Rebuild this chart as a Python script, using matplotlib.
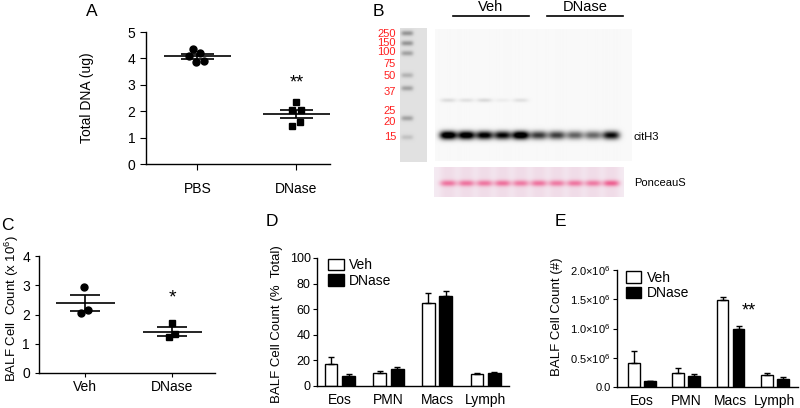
import numpy as np
import matplotlib.pyplot as plt
from matplotlib.ticker import FuncFormatter

plt.rcParams['font.family'] = ['Liberation Sans', 'DejaVu Sans']
plt.rcParams['mathtext.fontset'] = 'custom'
plt.rcParams['mathtext.rm'] = 'Liberation Sans'
plt.rcParams['mathtext.it'] = 'Liberation Sans:italic'
plt.rcParams['axes.linewidth'] = 1.0

# ---- data ----
# panel A: total DNA (ug)
a_groups = ['PBS', 'DNase']
a_pbs = [4.35, 4.20, 4.10, 3.85, 3.91]
a_dnase = [2.35, 2.06, 2.04, 1.58, 1.44]
a_jitter_pbs = [-0.047, 0.03, -0.088, -0.01, 0.07]
a_jitter_dnase = [-0.003, -0.044, 0.047, 0.04, -0.044]

# panel B: western blot band strengths (0-1)
blot_groups = ['Veh', 'DNase']
cith3_band = [1.0, 0.95, 0.85, 0.80, 1.0, 0.62, 0.60, 0.48, 0.46, 0.78]
upper_band = [0.12, 0.10, 0.13, 0.05, 0.10, 0.0, 0.0, 0.0, 0.0, 0.0]
ponceau_band = [0.80, 0.80, 0.78, 0.82, 0.75, 0.80, 0.75, 0.78, 0.75, 0.95]
marker_labels = ['250', '150', '100', '75', '50', '37', '25', '20', '15']

# panel C: BALF cell count (x10^6)
c_groups = ['Veh', 'DNase']
c_veh = [2.95, 2.16, 2.05]
c_dnase = [1.70, 1.33, 1.22]
c_jitter_veh = [-0.008, 0.027, -0.046]
c_jitter_dnase = [-0.004, 0.034, -0.042]

# panels D and E: cell types
cells = ['Eos', 'PMN', 'Macs', 'Lymph']
d_veh = [17, 10.4, 64.8, 9.4]
d_veh_err = [6, 1.6, 7.8, 0.5]
d_dnase = [8, 13, 70.5, 9.9]
d_dnase_err = [1, 2, 3.4, 1.3]

e_veh = [0.417e6, 0.24e6, 1.486e6, 0.211e6]
e_veh_err = [0.20e6, 0.086e6, 0.044e6, 0.035e6]
e_dnase = [0.097e6, 0.183e6, 0.983e6, 0.131e6]
e_dnase_err = [0.013e6, 0.046e6, 0.057e6, 0.04e6]

W, H = 800, 408
fig = plt.figure(figsize=(W / 100, H / 100), dpi=100)


def box(x0, y0, x1, y1):
    return fig.add_axes([x0 / W, 1 - y1 / H, (x1 - x0) / W, (y1 - y0) / H])


def style(ax):
    for s in ['top', 'right']:
        ax.spines[s].set_visible(False)


def mean_sem(ax, x, vals, marker, jitter):
    vals = np.array(vals)
    m = vals.mean()
    sem = vals.std(ddof=1) / np.sqrt(len(vals))
    ax.plot(x + np.array(jitter), vals, marker, color='black', ms=5, ls='none', zorder=3)
    ax.hlines(m, x - 0.34, x + 0.34, color='black', lw=1.2)
    ax.hlines([m - sem, m + sem], x - 0.17, x + 0.17, color='black', lw=1.2)
    ax.vlines(x, m - sem, m + sem, color='black', lw=1.2)


def panel_label(txt, x, y):
    fig.text(x / W, 1 - y / H, txt, fontsize=12.5, ha='center', va='center')


# ---- panel A ----
ax = box(146, 32, 330, 164)
style(ax)
mean_sem(ax, 0, a_pbs, 'o', a_jitter_pbs)
mean_sem(ax, 1, a_dnase, 's', a_jitter_dnase)
ax.set_xlim(-0.52, 1.34)
ax.set_ylim(0, 5)
ax.set_yticks(range(6))
ax.set_xticks([0, 1])
ax.set_xticklabels(a_groups)
ax.tick_params(axis='x', length=4, pad=9, labelsize=10)
ax.tick_params(axis='y', length=4, labelsize=10)
ax.set_ylabel('Total DNA (ug)', fontsize=10)
ax.yaxis.set_label_coords(-0.28, 0.5)
ax.text(1, np.mean(a_dnase) + 0.85, '**', ha='center', va='bottom', fontsize=13)
panel_label('A', 92, 12)

# ---- panel B (blot) ----
bx = box(360, 0, 660, 205)
bx.set_xlim(360, 660)
bx.set_ylim(205, 0)
bx.axis('off')
panel_label('B', 378, 11)

lanes = 448 + 18.0 * np.arange(len(cith3_band))

# main blot
gx = np.arange(435, 631, 0.5)
gy = np.arange(29, 161, 0.5)
X, Y = np.meshgrid(gx, gy)
dens = np.zeros_like(X)
for cx, s, u in zip(lanes, cith3_band, upper_band):
    dens += 1.3 * s * np.exp(-(np.abs(X - cx) / 8.5) ** 3) * np.exp(-((Y - 135) / 4.2) ** 2)
    dens += u * np.exp(-(np.abs(X - cx) / 7.5) ** 3) * np.exp(-((Y - 100) / 2.0) ** 2)
img = np.clip(0.975 - 0.95 * dens, 0, 1)
bx.imshow(img, cmap='gray', vmin=0, vmax=1, extent=(435, 631, 161, 29),
          aspect='auto', interpolation='bilinear')

# ladder
lx = np.arange(400, 427, 0.5)
ly = np.arange(28, 162, 0.5)
LX, LY = np.meshgrid(lx, ly)
ladder_y = [33, 43, 53, 75, 88, 118, 137]
ladder_s = [0.3, 0.3, 0.25, 0.18, 0.25, 0.25, 0.12]
ld = np.zeros_like(LX)
for yy, s in zip(ladder_y, ladder_s):
    ld += s * np.exp(-((LX - 407) / 6.0) ** 4) * np.exp(-((LY - yy) / 2.5) ** 2)
limg = np.clip(0.88 - ld, 0, 1)
bx.imshow(limg, cmap='gray', vmin=0, vmax=1, extent=(400, 427, 162, 28),
          aspect='auto', interpolation='bilinear')

marker_y = [34, 43, 52, 64, 76, 92, 111, 122, 137]
for lab, yy in zip(marker_labels, marker_y):
    bx.text(396, yy, lab, color='#ff2020', fontsize=8, ha='right', va='center')

# ponceau strip
px = np.arange(434, 623, 0.5)
py = np.arange(167, 197, 0.5)
PX, PY = np.meshgrid(px, py)
pd_ = np.zeros_like(PX)
for cx, s in zip(lanes, ponceau_band):
    pd_ += s * np.exp(-(np.abs(PX - cx) / 8.0) ** 3) * np.exp(-((PY - 183) / 3.0) ** 2)
lane_tint = np.zeros_like(PX)
for cx in lanes:
    lane_tint += 0.4 * np.exp(-(np.abs(PX - cx) / 8.0) ** 3)
base = np.array([0.96, 0.92, 0.95])
tint = np.array([0.92, 0.78, 0.85])
band = np.array([0.93, 0.35, 0.55])
pimg = base[None, None, :] * (1 - lane_tint[..., None]) + tint[None, None, :] * lane_tint[..., None]
w = np.clip(pd_, 0, 1)[..., None]
pimg = pimg * (1 - w) + band[None, None, :] * w
bx.imshow(pimg, extent=(434, 623, 197, 167), aspect='auto', interpolation='bilinear')

# group bars and labels
bx.plot([453, 529], [16, 16], color='black', lw=1.2)
bx.plot([547, 623], [16, 16], color='black', lw=1.2)
bx.text(491, 7, blot_groups[0], fontsize=10.5, ha='center', va='center')
bx.text(585, 7, blot_groups[1], fontsize=10.5, ha='center', va='center')
bx.text(634, 137, 'citH3', fontsize=8, ha='left', va='center')
bx.text(634, 183, 'PonceauS', fontsize=8, ha='left', va='center')

# ---- panel C ----
ax = box(39, 256, 215, 373)
style(ax)
mean_sem(ax, 0, c_veh, 'o', c_jitter_veh)
mean_sem(ax, 1, c_dnase, 's', c_jitter_dnase)
ax.set_xlim(-0.53, 1.49)
ax.set_ylim(0, 4)
ax.set_yticks(range(5))
ax.set_xticks([0, 1])
ax.set_xticklabels(c_groups)
ax.tick_params(axis='x', length=3, pad=2, labelsize=10)
ax.tick_params(axis='y', length=3, labelsize=10)
ax.set_ylabel('BALF Cell  Count (x 10$^6$)', fontsize=9.5)
ax.yaxis.set_label_coords(-0.105, 0.55)
ax.text(1, 2.55, '*', ha='center', va='center', fontsize=14)
panel_label('C', 7, 225)


def bar_panel(ax, veh, veh_err, dn, dn_err):
    x = np.arange(len(cells))
    b1 = ax.bar(x - 0.18, veh, 0.26, color='white', edgecolor='black', lw=1,
                yerr=[np.zeros(len(veh)), veh_err], capsize=2.5,
                error_kw=dict(elinewidth=1, capthick=1), label='Veh')
    b2 = ax.bar(x + 0.18, dn, 0.26, color='black', edgecolor='black', lw=1,
                yerr=[np.zeros(len(dn)), dn_err], capsize=2.5,
                error_kw=dict(elinewidth=1, capthick=1), label='DNase')
    ax.set_xticks(x)
    ax.set_xticklabels(cells)
    ax.tick_params(axis='x', length=0, pad=5, labelsize=10)
    ax.tick_params(axis='y', length=3, pad=1.5)
    return b1, b2


# ---- panel D ----
ax = box(317, 258, 509, 386)
style(ax)
h = bar_panel(ax, d_veh, d_veh_err, d_dnase, d_dnase_err)
ax.tick_params(axis='y', labelsize=9)
ax.set_xlim(-0.47, 3.48)
ax.set_ylim(0, 100)
ax.set_yticks(range(0, 101, 20))
ax.set_ylabel('BALF Cell Count (%  Total)', fontsize=9.5)
ax.yaxis.set_label_coords(-0.175, 0.48)
ax.legend(handles=h, loc='upper left', bbox_to_anchor=(0.03, 1.04), frameon=False,
          fontsize=10, handlelength=1.1, handleheight=0.9, handletextpad=0.4,
          labelspacing=0.1, borderaxespad=0)
panel_label('D', 272, 222)

# ---- panel E ----
ax = box(617, 270, 798, 387)
style(ax)
h = bar_panel(ax, e_veh, e_veh_err, e_dnase, e_dnase_err)
ax.tick_params(axis='y', labelsize=8)
ax.set_xlim(-0.56, 3.52)
ax.set_ylim(0, 2.0e6)
ax.set_yticks(np.arange(0, 2.01e6, 0.5e6))
ax.yaxis.set_major_formatter(FuncFormatter(
    lambda v, p: '0.0' if v == 0 else f'{v / 1e6:.1f}\u00d710$^6$'))
ax.set_ylabel('BALF Cell Count (#)', fontsize=9.5)
ax.yaxis.set_label_coords(-0.30, 0.6)
ax.legend(handles=h, loc='upper left', bbox_to_anchor=(0.02, 1.04), frameon=False,
          fontsize=10, handlelength=1.1, handleheight=0.9, handletextpad=0.4,
          labelspacing=0.1, borderaxespad=0)
ax.text(2 + 0.4, 1.3e6, '**', ha='center', va='center', fontsize=13)
panel_label('E', 560, 222)

fig.savefig('out.png', dpi=100)
